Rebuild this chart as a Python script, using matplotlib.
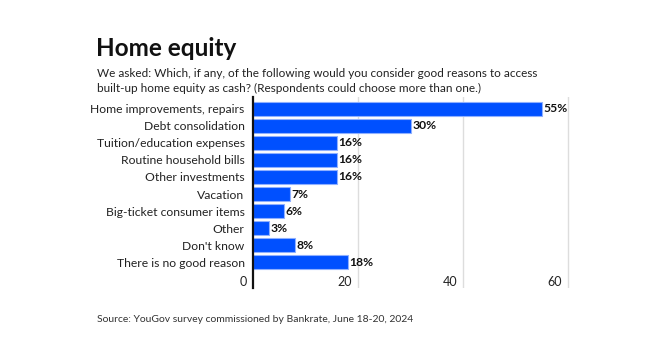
import matplotlib.pyplot as plt
import numpy as np

plt.rcParams['font.family'] = ['Lato', 'DejaVu Sans']

# Survey answers, share of respondents (%)
reasons = [
    "Home improvements, repairs",
    "Debt consolidation",
    "Tuition/education expenses",
    "Routine household bills",
    "Other investments",
    "Vacation",
    "Big-ticket consumer items",
    "Other",
    "Don't know",
    "There is no good reason",
]
shares = [55, 30, 16, 16, 16, 7, 6, 3, 8, 18]
x_ticks = [0, 20, 40, 60]

bar_color = "#0050ff"
edge_color = "#8fb0ff"

fig = plt.figure(figsize=(6.5, 3.37), dpi=100)
ax = fig.add_axes([0.389, 0.145, 0.488, 0.567])

y = np.arange(len(reasons))
ax.barh(y, shares, height=0.82, color=bar_color, edgecolor=edge_color, linewidth=0.8, zorder=3)

for yi, v in zip(y, shares):
    ax.text(v + 0.3, yi, f"{v}%", va="center", ha="left", fontsize=8.7,
            fontweight="bold", color="#111111", zorder=4)

ax.set_xlim(0, 60.3)
ax.set_ylim(10.5, -0.67)

ax.set_yticks(y)
ax.set_yticklabels(reasons, fontsize=8.7, color="#222222")
ax.tick_params(axis="y", length=0, pad=6)

# gridlines and x labels sit inside the plot area, below the last bar
ax.set_xticks([])
for t in x_ticks[1:]:
    ax.axvline(t, color="#dddddd", linewidth=1, zorder=1)
for t in x_ticks:
    ax.text(t - 1.2, 10.15, str(t), ha="right", va="center", fontsize=9, color="#222222")

for side in ["top", "right", "bottom"]:
    ax.spines[side].set_visible(False)
ax.spines["left"].set_linewidth(1.6)
ax.spines["left"].set_color("#111111")
ax.spines["left"].set_zorder(5)

fig.text(96 / 650, 1 - 49 / 337, "Home equity", fontsize=17.5, fontweight="bold",
         ha="left", va="center", color="#111111")
fig.text(97 / 650, 1 - 81 / 337,
         "We asked: Which, if any, of the following would you consider good reasons to access\n"
         "built-up home equity as cash? (Respondents could choose more than one.)",
         fontsize=8.5, ha="left", va="center", color="#222222", linespacing=1.4)
fig.text(97 / 650, 1 - 320 / 337,
         "Source: YouGov survey commissioned by Bankrate, June 18-20, 2024",
         fontsize=7.5, ha="left", va="center", color="#333333")

fig.savefig("out.png", dpi=100)
